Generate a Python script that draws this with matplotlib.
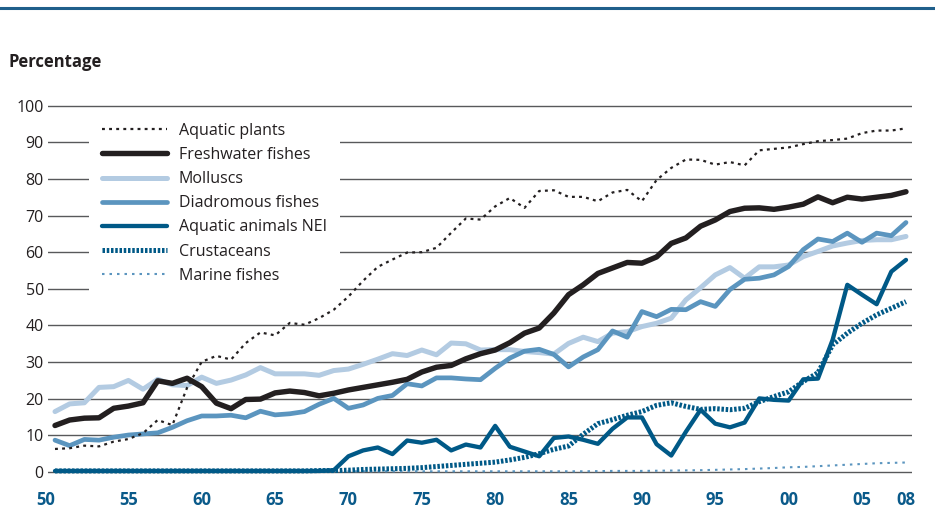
import matplotlib
matplotlib.use("Agg")
import matplotlib.pyplot as plt
from matplotlib.lines import Line2D

plt.rcParams['font.family'] = ['Open Sans', 'DejaVu Sans']

# years 1950 - 2008
years = list(range(1950, 2009))

aquatic_plants = [6.3, 6.5, 7.2, 7.0, 8.3, 9.0, 10.6, 14.2, 12.8, 23.0,
                  30.1, 31.7, 30.7, 35.2, 38.1, 37.3, 40.7, 40.2, 42.0, 44.3,
                  47.9, 52.2, 56.0, 58.0, 59.9, 60.0, 61.2, 65.3, 69.2, 68.9,
                  72.5, 74.8, 72.1, 76.7, 76.9, 75.1, 75.1, 73.9, 76.3, 77.0,
                  73.9, 79.7, 83.0, 85.3, 85.2, 83.9, 84.6, 83.7, 87.8, 88.2,
                  88.6, 89.5, 90.3, 90.6, 91.0, 92.5, 93.2, 93.2, 93.8]

freshwater_fishes = [12.7, 14.2, 14.7, 14.8, 17.4, 18.0, 18.9, 24.9, 24.2, 25.6,
                     23.3, 18.8, 17.3, 19.8, 19.9, 21.6, 22.1, 21.7, 20.8, 21.5,
                     22.4, 23.1, 23.8, 24.5, 25.3, 27.3, 28.6, 29.1, 30.9, 32.3,
                     33.3, 35.3, 37.9, 39.3, 43.4, 48.4, 51.1, 54.2, 55.7, 57.2,
                     57.0, 58.7, 62.4, 63.9, 67.1, 68.8, 71.1, 72.0, 72.1, 71.7,
                     72.3, 73.1, 75.1, 73.5, 75.0, 74.5, 75.0, 75.5, 76.5]

molluscs = [16.5, 18.6, 18.9, 23.1, 23.3, 25.0, 22.6, 25.3, 23.8, 23.6,
            25.9, 24.2, 25.1, 26.5, 28.5, 26.8, 26.8, 26.8, 26.4, 27.7,
            28.1, 29.4, 30.8, 32.3, 31.8, 33.3, 32.0, 35.2, 35.0, 33.3,
            33.4, 33.4, 32.9, 32.6, 32.2, 35.1, 36.8, 35.6, 37.9, 38.3,
            39.7, 40.6, 42.0, 47.0, 50.3, 53.8, 55.8, 52.9, 56.0, 56.0,
            56.5, 58.8, 60.2, 61.7, 62.5, 63.2, 63.4, 63.4, 64.3]

diadromous_fishes = [8.7, 7.2, 8.9, 8.7, 9.5, 10.1, 10.4, 10.7, 12.2, 14.0,
                     15.3, 15.3, 15.5, 14.8, 16.6, 15.6, 15.9, 16.5, 18.5, 20.1,
                     17.4, 18.3, 20.1, 20.9, 24.1, 23.5, 25.7, 25.7, 25.4, 25.2,
                     28.3, 31.1, 33.0, 33.5, 32.1, 28.7, 31.4, 33.4, 38.5, 36.8,
                     43.8, 42.4, 44.4, 44.3, 46.5, 45.2, 49.8, 52.6, 52.9, 53.8,
                     56.1, 60.7, 63.6, 62.9, 65.2, 62.7, 65.2, 64.5, 68.1]

aquatic_animals_nei = [0.3, 0.3, 0.3, 0.3, 0.3, 0.3, 0.3, 0.3, 0.3, 0.3,
                       0.3, 0.3, 0.3, 0.3, 0.3, 0.3, 0.3, 0.3, 0.3, 0.5,
                       4.3, 5.9, 6.7, 4.9, 8.6, 8.0, 8.8, 5.9, 7.5, 6.7,
                       12.6, 6.9, 5.6, 4.3, 9.3, 9.7, 8.8, 7.7, 11.8, 14.9,
                       14.9, 7.6, 4.5, 11.0, 17.0, 13.2, 12.2, 13.5, 20.1, 19.7,
                       19.5, 25.3, 25.5, 36.1, 51.1, 48.4, 45.8, 54.7, 57.9]

crustaceans = [0.3, 0.3, 0.3, 0.3, 0.3, 0.3, 0.3, 0.3, 0.3, 0.3,
               0.3, 0.3, 0.3, 0.3, 0.3, 0.3, 0.3, 0.3, 0.4, 0.4,
               0.5, 0.7, 0.8, 0.9, 1.0, 1.2, 1.5, 1.8, 2.1, 2.4,
               2.7, 3.3, 4.0, 5.0, 6.2, 7.1, 10.3, 13.2, 14.3, 15.5,
               16.5, 18.2, 18.9, 17.9, 17.1, 17.3, 17.0, 17.4, 19.2, 20.6,
               21.9, 24.7, 27.1, 34.7, 37.9, 40.6, 42.9, 44.7, 46.5]

marine_fishes = [0.2, 0.2, 0.2, 0.2, 0.2, 0.2, 0.2, 0.2, 0.2, 0.2,
                 0.2, 0.2, 0.2, 0.2, 0.2, 0.2, 0.2, 0.2, 0.2, 0.2,
                 0.2, 0.2, 0.2, 0.2, 0.2, 0.2, 0.2, 0.2, 0.2, 0.2,
                 0.2, 0.2, 0.2, 0.2, 0.2, 0.2, 0.2, 0.25, 0.3, 0.3,
                 0.3, 0.35, 0.4, 0.45, 0.5, 0.6, 0.7, 0.8, 0.95, 1.1,
                 1.3, 1.4, 1.6, 1.8, 2.0, 2.2, 2.4, 2.5, 2.6]

tick_years = [1950, 1955, 1960, 1965, 1970, 1975, 1980, 1985, 1990, 1995, 2000, 2005, 2008]
tick_labels = ["50", "55", "60", "65", "70", "75", "80", "85", "90", "95", "00", "05", "08"]

BLACK = "#231f20"
LIGHT = "#b3cbe2"
MID = "#5b95bf"
DARK = "#005987"

fig = plt.figure(figsize=(9.35, 5.11), dpi=100)
ax = fig.add_axes([48 / 935, 35.3 / 511, 864 / 935, 371.9 / 511])

# plot lines (draw order chosen so the dark lines sit on top)
l_marine, = ax.plot(years, marine_fishes, color=MID, lw=1.5, ls=(0, (1.2, 2.4)), clip_on=False)
l_crus, = ax.plot(years, crustaceans, color=DARK, lw=3.6, ls=(0, (0.5, 0.35)), clip_on=False)
l_moll, = ax.plot(years, molluscs, color=LIGHT, lw=3.6, solid_capstyle='round',
                  solid_joinstyle='round', clip_on=False)
l_diad, = ax.plot(years, diadromous_fishes, color=MID, lw=3.4, solid_capstyle='round',
                  solid_joinstyle='round', clip_on=False)
l_fresh, = ax.plot(years, freshwater_fishes, color=BLACK, lw=3.9, solid_capstyle='round',
                   solid_joinstyle='round', clip_on=False)
l_nei, = ax.plot(years, aquatic_animals_nei, color=DARK, lw=3.1, solid_capstyle='round',
                 solid_joinstyle='round', clip_on=False)
l_plants, = ax.plot(years, aquatic_plants, color=BLACK, lw=1.6, ls=(0, (1.3, 1.9)), clip_on=False)

ax.set_xlim(1950 - 7 / 14.66, 2008 + 6 / 14.66)
ax.set_ylim(-1, 100.5)
for s in ax.spines.values():
    s.set_visible(False)

ax.set_yticks(range(0, 101, 10))
ax.grid(axis='y', color='#58595b', lw=1.0)
ax.set_axisbelow(True)
ax.tick_params(axis='y', length=0, pad=3, labelsize=11.5, labelcolor=BLACK)

ax.set_xticks(tick_years)
ax.set_xticklabels(tick_labels)
ax.tick_params(axis='x', length=0, pad=11, labelsize=12, labelcolor='#0a5a8a')
for lab in ax.get_xticklabels():
    lab.set_fontweight('bold')
ax.get_xticklabels()[0].set_horizontalalignment('right')

handles = [l_plants, l_fresh, l_moll, l_diad, l_nei, l_crus, l_marine]
labels = ["Aquatic plants", "Freshwater fishes", "Molluscs", "Diadromous fishes",
          "Aquatic animals NEI", "Crustaceans", "Marine fishes"]
leg = ax.legend(handles, labels, loc='upper left', bbox_to_anchor=(0.0475, 0.983),
                frameon=True, fancybox=False, framealpha=1, edgecolor='none',
                facecolor='white', fontsize=11.5, handlelength=4.07,
                handletextpad=0.75, labelspacing=0.51, borderpad=0.8, borderaxespad=0)
for t in leg.get_texts():
    t.set_color(BLACK)

fig.text(8 / 935, 1 - 62 / 511, "Percentage", fontsize=12, fontweight='bold',
         va='center', ha='left', color=BLACK)

# blue rule on top
fig.add_artist(Line2D([0, 1], [1 - 8.5 / 511, 1 - 8.5 / 511], transform=fig.transFigure,
                      color='#1f5f8b', lw=2.2))

fig.savefig("out.png", dpi=100)
